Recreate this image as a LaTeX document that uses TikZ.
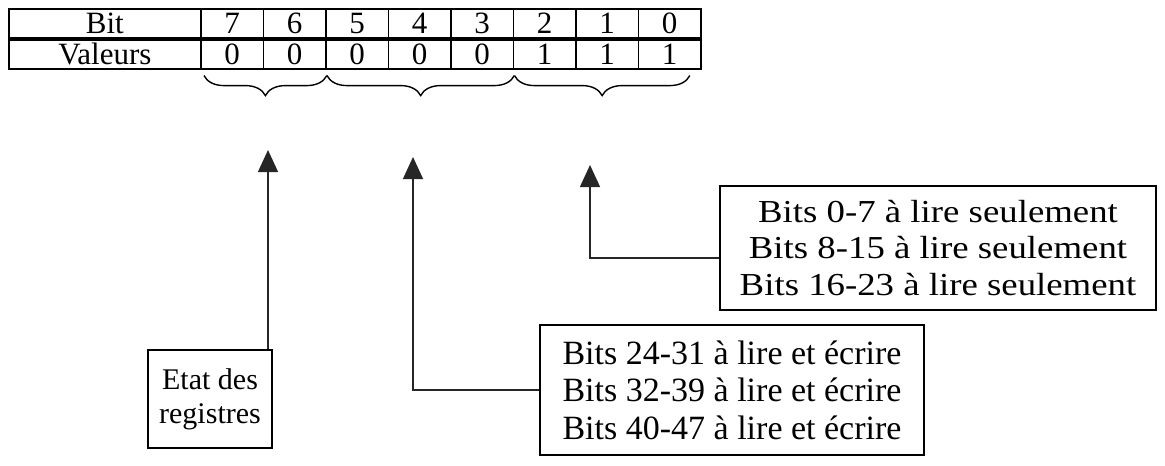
\documentclass[tikz,border=0pt]{standalone}
\usepackage{fontspec}
\setmainfont{Liberation Serif}
\newfontfamily\widerm[FakeStretch=1.15]{Liberation Serif}
\usetikzlibrary{arrows.meta, positioning, decorations.pathreplacing}

\begin{document}
\begin{tikzpicture}[x=0.5pt, y=-0.5pt,
                    cell/.style={draw, line width=0.9pt, minimum width=31.25pt, minimum height=14.5pt,
                                 inner sep=0pt, text height=10.5pt, text depth=0.5pt,
                                 font=\fontsize{15.5}{15.5}\selectfont},
                    head/.style={cell, minimum width=96pt},
                    infobox/.style={draw, line width=0.8pt, inner sep=0pt, align=center},
                    bitbrace/.style={decorate, decoration={brace, mirror, amplitude=10pt}, line width=0.7pt},
                    pointer/.style={line width=0.7pt, -{Triangle[width=10pt, length=11pt]}, color=black!85}]
\useasboundingbox (0,0) rectangle (1165,465);
% register table
\node[head, anchor=north west] (hbit) at (8,8) {Bit};
\node[head, anchor=north] (hval) at (hbit.south) {Valeurs};
\foreach \b/\v [count=\i from 0] in {7/0, 6/0, 5/0, 4/0, 3/0, 2/1, 1/1, 0/1} {
    \node[cell, anchor=north west] (b\b) at (200+62.5*\i,8) {\b};
    \node[cell, anchor=north] (v\b) at (b\b.south) {\v};
}
% groups
\draw[bitbrace] ([xshift=2pt, yshift=-3pt]v7.south west) -- ([xshift=0pt, yshift=-3pt]v6.south east);
\draw[bitbrace] ([xshift=1pt, yshift=-3pt]v5.south west) -- ([xshift=0pt, yshift=-3pt]v3.south east);
\draw[bitbrace] ([xshift=1pt, yshift=-3pt]v2.south west) -- ([xshift=-6pt, yshift=-3pt]v0.south east);
\coordinate (tip1) at (268,150);
\coordinate (tip2) at (413,157);
\coordinate (tip3) at (590,165);
% boxes
\node[infobox, minimum width=62pt, minimum height=49pt, font=\fontsize{15}{17}\selectfont]
    (etat) at (210,399) {Etat des\\registres};
\node[infobox, minimum width=192pt, minimum height=65pt, font=\fontsize{17}{18.8}\selectfont]
    (rw) at (732,390) {Bits 24-31 à lire et écrire\\Bits 32-39 à lire et écrire\\Bits 40-47 à lire et écrire};
\node[infobox, minimum width=218pt, minimum height=62pt, font=\widerm\fontsize{16}{18.3}\selectfont]
    (ro) at (938,248) {Bits 0-7 à lire seulement\\Bits 8-15 à lire seulement\\Bits 16-23 à lire seulement};
% arrows
\draw[pointer] (tip1 |- etat.north) -- (tip1);
\draw[pointer] (rw.west) -| (tip2);
\draw[pointer] ([yshift=-5pt]ro.west) -| (tip3);
\end{tikzpicture}
\end{document}
